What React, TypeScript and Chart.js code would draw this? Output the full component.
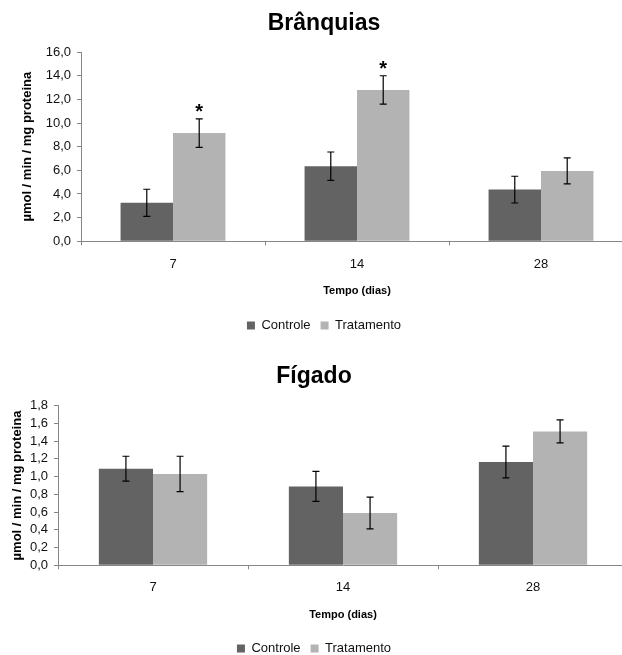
import React, { useEffect, useRef } from 'react';
import { Chart, registerables } from 'chart.js';

Chart.register(...registerables);

// ---- data ----
const days = ['7', '14', '28'];
const seriesNames = ['Controle', 'Tratamento'];
const axisTitleY = 'µmol / min / mg proteina';
const axisTitleX = 'Tempo (dias)';

const branquiasControle = [3.25, 6.35, 4.37];
const branquiasControleErr = [1.15, 1.2, 1.13];
const branquiasTratamento = [9.15, 12.8, 5.95];
const branquiasTratamentoErr = [1.2, 1.2, 1.1];
const branquiasMarks = ['*', '*', ''];

const figadoControle = [1.09, 0.89, 1.165];
const figadoControleErr = [0.14, 0.17, 0.18];
const figadoTratamento = [1.03, 0.59, 1.51];
const figadoTratamentoErr = [0.2, 0.18, 0.13];
const figadoMarks = ['', '', ''];

const FONT = '"Liberation Sans", Arial, sans-serif';
const NARROW = '"Liberation Sans Narrow", "Arial Narrow", "Liberation Sans", sans-serif';
const AXIS = '#868686';

const errorBarPlugin = {
  id: 'errorBars',
  afterDatasetsDraw(chart: any) {
    const ctx = chart.ctx;
    const y = chart.scales.y;
    chart.data.datasets.forEach((ds: any, i: number) => {
      const meta = chart.getDatasetMeta(i);
      const errs = ds.errors || [];
      const marks = ds.marks || [];
      meta.data.forEach((bar: any, j: number) => {
        const v = ds.data[j];
        const e = errs[j] || 0;
        const x = bar.x;
        const yt = y.getPixelForValue(v + e);
        const yb = y.getPixelForValue(v - e);
        ctx.save();
        ctx.strokeStyle = '#000';
        ctx.lineWidth = 1.2;
        ctx.beginPath();
        ctx.moveTo(x, yt);
        ctx.lineTo(x, yb);
        ctx.moveTo(x - 3.5, yt);
        ctx.lineTo(x + 3.5, yt);
        ctx.moveTo(x - 3.5, yb);
        ctx.lineTo(x + 3.5, yb);
        ctx.stroke();
        if (marks[j]) {
          ctx.font = 'bold 20px ' + FONT;
          ctx.fillStyle = '#000';
          ctx.textAlign = 'center';
          ctx.textBaseline = 'alphabetic';
          ctx.fillText(marks[j], x, yt - 12 + 10.8);
        }
        ctx.restore();
      });
    });
  },
};

type Props = {
  title: string;
  ctrl: number[];
  ctrlErr: number[];
  trat: number[];
  tratErr: number[];
  marks: string[];
  yMax: number;
  yStep: number;
  width: number;
  height: number;
  top: number;
  padLeft: number;
  padRight: number;
  yWidth: number;
  yTitlePad: number;
  titlePadTop: number;
  titlePadBottom: number;
  xHeight: number;
  xTickPad: number;
  xTitlePadBottom: number;
};

function BarChart(p: Props) {
  const ref = useRef<HTMLCanvasElement>(null);
  useEffect(() => {
    if (!ref.current) return;
    const chart = new Chart(ref.current, {
      type: 'bar',
      data: {
        labels: days,
        datasets: [
          {
            label: seriesNames[0],
            data: p.ctrl,
            backgroundColor: '#636363',
            borderWidth: 0,
            errors: p.ctrlErr,
            categoryPercentage: 0.57,
            barPercentage: 1.0,
          } as any,
          {
            label: seriesNames[1],
            data: p.trat,
            backgroundColor: '#b3b3b3',
            borderWidth: 0,
            errors: p.tratErr,
            marks: p.marks,
            categoryPercentage: 0.57,
            barPercentage: 1.0,
          } as any,
        ],
      },
      options: {
        animation: false,
        responsive: false,
        layout: { padding: { left: p.padLeft, right: p.padRight, top: 0, bottom: 0 } },
        plugins: {
          title: {
            display: true,
            text: p.title,
            color: '#000',
            font: { family: FONT, size: 23, weight: 'bold' },
            padding: { top: p.titlePadTop, bottom: p.titlePadBottom },
          },
          legend: {
            position: 'bottom',
            labels: {
              boxWidth: 8,
              boxHeight: 8,
              padding: 10,
              color: '#111',
              font: { family: FONT, size: 13 },
            },
          },
          tooltip: { enabled: false },
        },
        scales: {
          x: {
            offset: true,
            grid: {
              display: true,
              offset: true,
              drawOnChartArea: false,
              drawTicks: true,
              tickLength: 4,
              color: AXIS,
            },
            border: { display: true, color: AXIS, width: 1 },
            ticks: {
              color: '#111',
              padding: p.xTickPad,
              font: { family: FONT, size: 13 },
            },
            title: {
              display: true,
              text: axisTitleX,
              color: '#000',
              font: { family: NARROW, size: 11, weight: 'bold' },
              padding: { top: 0, bottom: p.xTitlePadBottom },
            },
            afterFit: (s: any) => {
              s.height = p.xHeight;
            },
          },
          y: {
            min: 0,
            max: p.yMax,
            grid: {
              display: true,
              drawOnChartArea: false,
              drawTicks: true,
              tickLength: 4,
              color: AXIS,
            },
            border: { display: true, color: AXIS, width: 1 },
            ticks: {
              stepSize: p.yStep,
              autoSkip: false,
              color: '#111',
              padding: 6,
              font: { family: FONT, size: 13 },
              callback: (v: any) => Number(v).toFixed(1).replace('.', ','),
            },
            title: {
              display: true,
              text: axisTitleY,
              color: '#000',
              font: { family: FONT, size: 13, weight: 'bold' },
              padding: { top: p.yTitlePad, bottom: 0 },
            },
            afterFit: (s: any) => {
              s.width = p.yWidth;
            },
          },
        },
      } as any,
      plugins: [errorBarPlugin],
    });
    return () => chart.destroy();
  }, []);
  return (
    <canvas
      ref={ref}
      width={p.width}
      height={p.height}
      style={{ position: 'absolute', left: 0, top: p.top, width: p.width, height: p.height }}
    />
  );
}

export default function App() {
  return (
    <div
      style={{
        position: 'fixed',
        left: 0,
        top: 0,
        width: 622,
        height: 655,
        overflow: 'hidden',
        background: '#fff',
      }}
    >
      <BarChart
        title="Brânquias"
        ctrl={branquiasControle}
        ctrlErr={branquiasControleErr}
        trat={branquiasTratamento}
        tratErr={branquiasTratamentoErr}
        marks={branquiasMarks}
        yMax={16}
        yStep={2}
        width={650}
        height={342}
        top={0}
        padLeft={15}
        padRight={17}
        yWidth={66}
        yTitlePad={5}
        titlePadTop={9.5}
        titlePadBottom={15}
        xHeight={67.7}
        xTickPad={11}
        xTitlePadBottom={11.9}
      />
      <BarChart
        title="Fígado"
        ctrl={figadoControle}
        ctrlErr={figadoControleErr}
        trat={figadoTratamento}
        tratErr={figadoTratamentoErr}
        marks={figadoMarks}
        yMax={1.8}
        yStep={0.2}
        width={630}
        height={325}
        top={340}
        padLeft={0}
        padRight={2}
        yWidth={58}
        yTitlePad={10}
        titlePadTop={22.9}
        titlePadBottom={15.2}
        xHeight={66.7}
        xTickPad={10.5}
        xTitlePadBottom={10.9}
      />
    </div>
  );
}
